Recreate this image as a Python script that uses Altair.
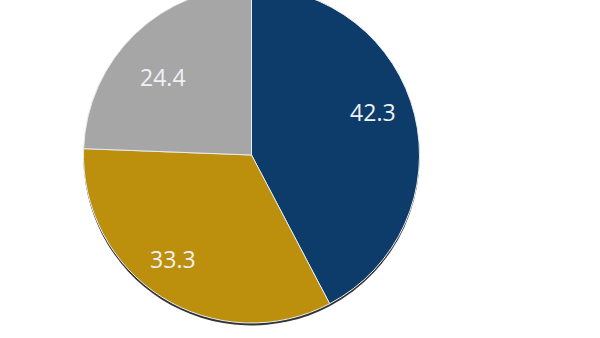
import altair as alt
import pandas as pd

categories = ["A", "B", "C"]
values = [42.3, 33.3, 24.4]
labels = ["42.3", "33.3", "24.4"]
colors = ["#0d3c6a", "#bc8f0c", "#a6a6a6"]

df = pd.DataFrame({"cat": categories, "value": values, "label": labels, "ord": [0, 1, 2]})

cx, cy, R = 251.5, 155, 168

theta = alt.Theta("value:Q", stack=True)
color = alt.Color("cat:N", scale=alt.Scale(domain=categories, range=colors), legend=None)

shadow = alt.Chart(df).mark_arc(outerRadius=R, color="#1e1e1e", opacity=0.9).encode(
    theta=theta, order=alt.Order("ord:Q"),
    x=alt.value(cx), y=alt.value(cy + 2.5)
)

pie = alt.Chart(df).mark_arc(outerRadius=R, stroke="#e8ecef", strokeWidth=1).encode(
    theta=theta, color=color, order=alt.Order("ord:Q"),
    x=alt.value(cx), y=alt.value(cy)
)

offsets = {"A": (0, -11), "B": (-12, 0), "C": (-2, 14)}
texts = []
for cat in categories:
    ddx, ddy = offsets[cat]
    texts.append(
        alt.Chart(df).mark_text(radius=125, fontSize=23, font="Open Sans",
                                color="#eef2f6", dx=ddx, dy=ddy).encode(
            theta=theta, order=alt.Order("ord:Q"), text="label:N",
            x=alt.value(cx), y=alt.value(cy),
            opacity=alt.condition(alt.datum.cat == cat, alt.value(1), alt.value(0))
        )
    )

chart = alt.layer(shadow, pie, *texts).properties(
    width=600, height=338, autosize=alt.AutoSizeParams(type="none"), padding=0
).configure_view(stroke=None)

chart.save("out.html", embed_options={"renderer": "svg", "actions": False})
